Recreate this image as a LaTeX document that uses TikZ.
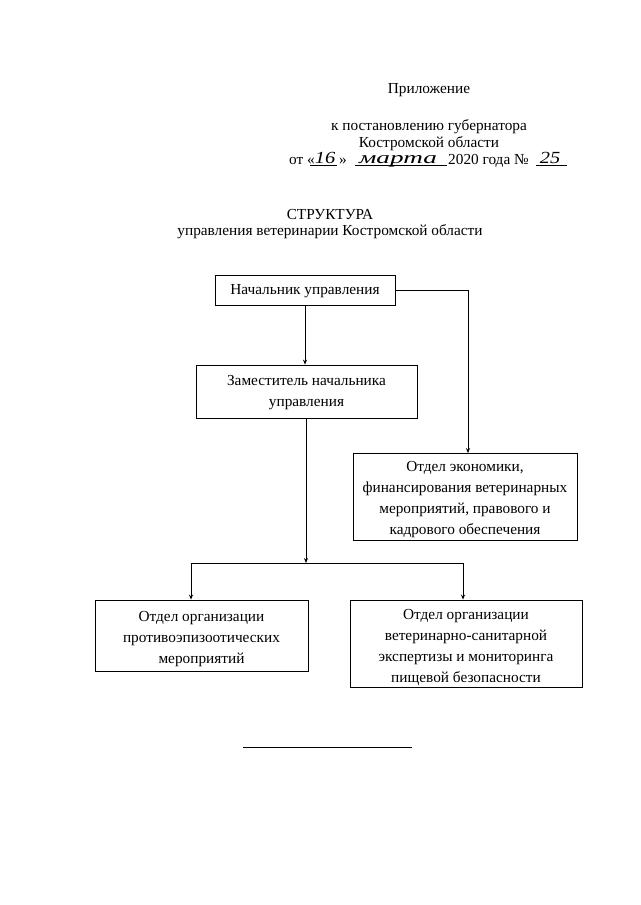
\documentclass[tikz,border=0pt]{standalone}
\usepackage{fontspec}
\usepackage{graphicx}
\setmainfont{Liberation Serif}
\usetikzlibrary{arrows.meta}
\begin{document}
\begin{tikzpicture}[x=1pt,y=-1pt,
  txt/.style={inner sep=0pt,font=\fontsize{15.3}{21}\selectfont},
  hand/.style={inner sep=0pt,font=\fontsize{17}{21}\selectfont\itshape},
  box/.style={draw,line width=0.8pt,inner sep=0pt},
  btxt/.style={inner sep=0pt,align=center,font=\fontsize{15.3}{21}\selectfont},
  conn/.style={line width=0.8pt},
  arr/.style={line width=0.8pt,-{Stealth[length=5pt,width=4pt]}}]
\useasboundingbox (0,0) rectangle (640,905);
% header
\node[txt,anchor=base] (pril) at (429,93) {Приложение};
\node[txt,anchor=base] (h1) at (429,130) {к постановлению губернатора};
\node[txt,anchor=base] (h2) at (429,147) {Костромской области};
\node[txt,anchor=base west] (ot) at (289,164) {от «};
\node[hand,anchor=base] (d16) at (325,163) {\scalebox{1.2}[1]{16}};
\node[txt,anchor=base west] (q2) at (339,164) {»};
\node[hand,anchor=base] (mar) at (398,163) {\scalebox{1.6}[1]{марта}};
\node[txt,anchor=base west] (god) at (448,164) {2020 года №};
\node[hand,anchor=base] (n25) at (550,163) {\scalebox{1.2}[1]{25}};
\draw[line width=0.5pt] (310,165) -- (337,165);
\draw[line width=0.5pt] (355,165) -- (447,165);
\draw[line width=0.5pt] (536,165) -- (567,165);
% title
\node[txt,anchor=base] (t1) at (330,219) {СТРУКТУРА};
\node[txt,anchor=base] (t2) at (330,235) {управления ветеринарии Костромской области};
% boxes
\node[box,minimum width=180pt,minimum height=30pt] (b1) at (305,290) {};
\node[btxt] (b1t) at ([yshift=-1.5pt]b1.center) {Начальник управления};
\node[box,minimum width=221pt,minimum height=53pt] (b2) at (306.5,391.5) {};
\node[btxt] (b2t) at ([yshift=-1.5pt]b2.center) {Заместитель начальника\\управления};
\node[box,minimum width=224pt,minimum height=87pt] (b3) at (465,497) {};
\node[btxt] (b3t) at ([yshift=-2.5pt]b3.center) {Отдел экономики,\\финансирования ветеринарных\\мероприятий, правового и\\кадрового обеспечения};
\node[box,minimum width=213pt,minimum height=71pt] (b4) at (201.5,635.5) {};
\node[btxt] (b4t) at ([yshift=-3.5pt]b4.center) {Отдел организации\\противоэпизоотических\\мероприятий};
\node[box,minimum width=232pt,minimum height=87pt] (b5) at (466,643.5) {};
\node[btxt] (b5t) at ([yshift=-4.5pt]b5.center) {Отдел организации\\ветеринарно-санитарной\\экспертизы и мониторинга\\пищевой безопасности};
% connectors
\draw[arr] (b1.south) -- (b1.south |- b2.north);
\draw[arr] (b1.east) -| ([xshift=3pt]b3.north);
\coordinate (j) at (306,563);
\coordinate (jl) at (191,563);
\coordinate (jr) at (463,563);
\draw[arr] (b2.south -| j) -- (j);
\draw[conn] (jl) -- (jr);
\draw[arr] (jl) -- (jl |- b4.north);
\draw[arr] (jr) -- (jr |- b5.north);
% bottom rule
\coordinate (r1) at (243,747);
\coordinate (r2) at (412,747);
\draw[line width=0.8pt] (r1) -- (r2);
\end{tikzpicture}
\end{document}
